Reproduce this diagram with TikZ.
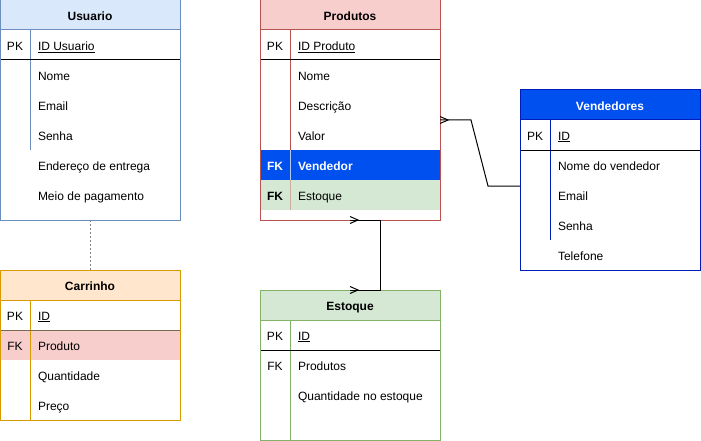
\documentclass[tikz,border=0pt]{standalone}
\usepackage{fontspec}
\setmainfont{Liberation Sans}
\usetikzlibrary{calc}
\definecolor{ufill}{HTML}{DAE8FC}\definecolor{ustroke}{HTML}{6C8EBF}
\definecolor{cfill}{HTML}{FFE6CC}\definecolor{cstroke}{HTML}{D79B00}
\definecolor{pfill}{HTML}{F8CECC}\definecolor{pstroke}{HTML}{B85450}
\definecolor{gfill}{HTML}{D5E8D4}\definecolor{gstroke}{HTML}{82B366}
\definecolor{vfill}{HTML}{0050EF}\definecolor{vstroke}{HTML}{001DBC}
\definecolor{cline}{HTML}{7A6A50}
\tikzset{
  txt/.style={inner sep=0pt, outer sep=0pt, text height=10.4pt, text depth=0pt, font=\fontsize{12}{14}\selectfont},
  rowtxt/.style={txt, anchor=west},
  keytxt/.style={txt, anchor=center},
  boldtxt/.style={font=\fontsize{12}{14}\selectfont\bfseries},
  hdr/.style={txt, boldtxt, minimum width=180pt, minimum height=30pt, line width=1pt},
  tbl/.style={inner sep=0pt, outer sep=0pt, minimum width=180pt, line width=1pt},
  sep/.style={line width=1pt},
  conn/.style={line width=1pt, black},
}
\begin{document}
\begin{tikzpicture}[x=1pt,y=-1pt]
\useasboundingbox (0,0) rectangle (701,441);
% ---------------- Usuario
\node[hdr, fill=ufill, draw=ustroke] (usuario-h) at (90,15) {Usuario};
\draw[sep, ustroke] (30,30) -- (30,150);
\draw[sep, black] (0,60) -- (180,60);
\node[tbl, draw=ustroke, minimum height=220pt] (usuario) at (90,110) {};
\node[keytxt] (u-pk) at (15,45) {PK};
\node[rowtxt] (u-id) at (38,45) {\underline{ID Usuario}};
\node[rowtxt] (u-nome) at (38,75) {Nome};
\node[rowtxt] (u-email) at (38,105) {Email};
\node[rowtxt] (u-senha) at (38,135) {Senha};
\node[rowtxt] (u-end) at (38,165) {Endereço de entrega};
\node[rowtxt] (u-meio) at (38,195) {Meio de pagamento};
% ---------------- Carrinho
\node[hdr, fill=cfill, draw=cstroke] (carrinho-h) at (90,285) {Carrinho};
\fill[pfill] (0,330) rectangle (180,360);
\draw[sep, cstroke] (30,300) -- (30,420);
\draw[sep, cline] (0,330) -- (180,330);
\node[tbl, draw=cstroke, minimum height=150pt] (carrinho) at (90,345) {};
\node[keytxt] (c-pk) at (15,315) {PK};
\node[rowtxt] (c-id) at (38,315) {\underline{ID}};
\node[keytxt] (c-fk) at (15,345) {FK};
\node[rowtxt] (c-prod) at (38,345) {Produto};
\node[rowtxt] (c-qtd) at (38,375) {Quantidade};
\node[rowtxt] (c-preco) at (38,405) {Preço};
% ---------------- Produtos
\node[hdr, fill=pfill, draw=pstroke] (produtos-h) at (350,15) {Produtos};
\fill[vfill] (260,150) rectangle (440,180);
\fill[gfill] (260,180) rectangle (440,210);
\draw[sep, pstroke] (290,30) -- (290,150);
\draw[sep, white!70!vfill] (290,150) -- (290,180);
\draw[sep, pstroke!40!gfill] (290,180) -- (290,210);
\draw[sep, black] (260,60) -- (440,60);
\node[tbl, draw=pstroke, minimum height=220pt] (produtos) at (350,110) {};
\node[keytxt] (p-pk) at (275,45) {PK};
\node[rowtxt] (p-id) at (298,45) {\underline{ID Produto}};
\node[rowtxt] (p-nome) at (298,75) {Nome};
\node[rowtxt] (p-desc) at (298,105) {Descrição};
\node[rowtxt] (p-valor) at (298,135) {Valor};
\node[keytxt, boldtxt, text=white] (p-fk1) at (275,165) {FK};
\node[rowtxt, boldtxt, text=white] (p-vend) at (298,165) {Vendedor};
\node[keytxt, boldtxt] (p-fk2) at (275,195) {FK};
\node[rowtxt] (p-est) at (298,195) {Estoque};
% ---------------- Estoque
\node[hdr, fill=gfill, draw=gstroke] (estoque-h) at (350,305) {Estoque};
\draw[sep, gstroke] (290,320) -- (290,440);
\draw[sep, black] (260,350) -- (440,350);
\node[tbl, draw=gstroke, minimum height=150pt] (estoque) at (350,365) {};
\node[keytxt] (e-pk) at (275,335) {PK};
\node[rowtxt] (e-id) at (298,335) {\underline{ID}};
\node[keytxt] (e-fk) at (275,365) {FK};
\node[rowtxt] (e-prod) at (298,365) {Produtos};
\node[rowtxt] (e-qtd) at (298,395) {Quantidade no estoque};
% ---------------- Vendedores
\node[hdr, fill=vfill, draw=vstroke, text=white] (vendedores-h) at (610,105) {Vendedores};
\draw[sep, vstroke] (550,120) -- (550,240);
\draw[sep, black] (520,150) -- (700,150);
\node[tbl, draw=vstroke, minimum height=180pt] (vendedores) at (610,180) {};
\node[keytxt] (v-pk) at (535,135) {PK};
\node[rowtxt] (v-id) at (558,135) {\underline{ID}};
\node[rowtxt] (v-nome) at (558,165) {Nome do vendedor};
\node[rowtxt] (v-email) at (558,195) {Email};
\node[rowtxt] (v-senha) at (558,225) {Senha};
\node[rowtxt] (v-tel) at (558,255) {Telefone};
% ---------------- connectors
\draw[line width=0.8pt, gray, dash pattern=on 2pt off 2pt] (usuario.south) -- (carrinho.north);
% Produtos -- Estoque
\draw[conn] (produtos.south) -- ++(30,0) |- (estoque.north);
\draw[conn] ($(produtos.south)+(0,-3.5)$) -- ($(produtos.south)+(8,0)$) -- ($(produtos.south)+(0,3.5)$);
\draw[conn] ($(estoque.north)+(0,-3.5)$) -- ($(estoque.north)+(8,0)$) -- ($(estoque.north)+(0,3.5)$);
% Produtos -- Vendedores
\coordinate (pv-a) at ($(produtos.east)+(0,10)$);
\coordinate (pv-b) at ($(vendedores.west)+(0,6)$);
\draw[conn] (pv-a) -- ++(31,0) -- ($(pv-b)+(-32,0)$) -- (pv-b);
\draw[conn] ($(pv-a)+(0,-3.5)$) -- ($(pv-a)+(8,0)$) -- ($(pv-a)+(0,3.5)$);
\end{tikzpicture}
\end{document}
